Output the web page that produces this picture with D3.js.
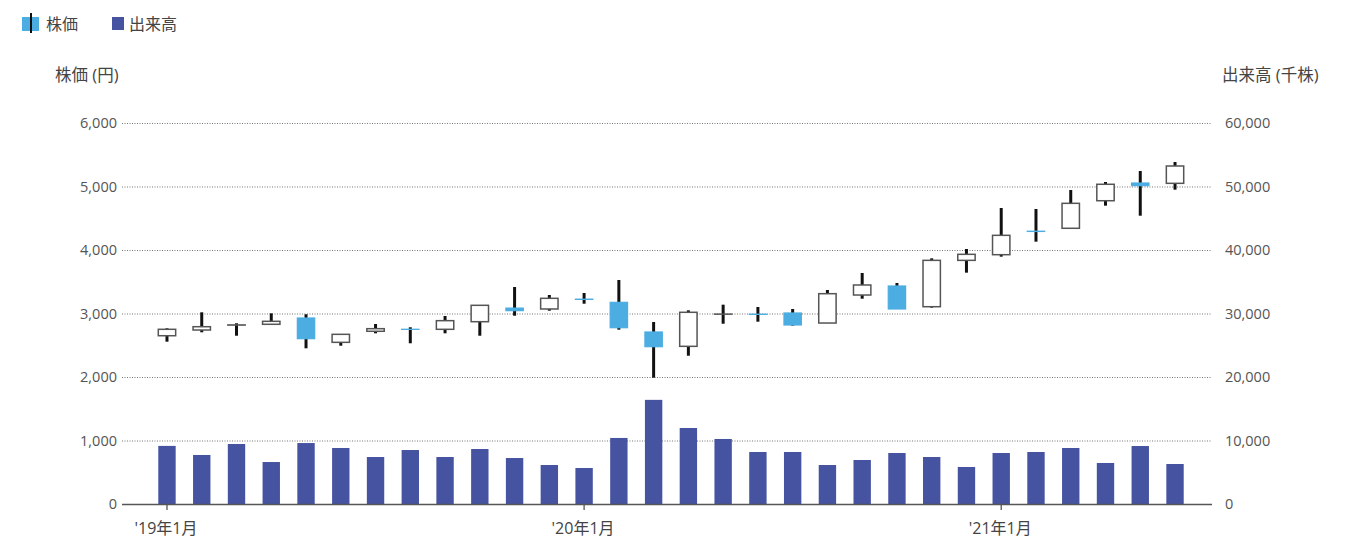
<!DOCTYPE html>
<html><head><meta charset="utf-8">
<script src="https://cdn.jsdelivr.net/npm/d3@7"></script>
<style>
body{margin:0;background:#fff;}
svg text{font-family:"Open Sans","Noto Sans CJK JP",sans-serif;}
</style></head><body>
<svg id="c" width="1355" height="538"></svg>
<script>
const months = ["2019-01","2019-02","2019-03","2019-04","2019-05","2019-06","2019-07","2019-08","2019-09","2019-10","2019-11","2019-12",
"2020-01","2020-02","2020-03","2020-04","2020-05","2020-06","2020-07","2020-08","2020-09","2020-10","2020-11","2020-12",
"2021-01","2021-02","2021-03","2021-04","2021-05","2021-06"];
const open  = [2650,2740,2818,2830,2929,2546,2720,2752,2751,2871,3085,3071,3226,3176,2709,2483,2990,2989,3008,2850,3291,3433,3107,3837,3926,4296,4342,4776,5055,5050];
const close = [2751,2792,2820,2877,2603,2672,2761,2750,2887,3129,3045,3239,3222,2776,2477,3019,2990,2986,2819,3312,3449,3071,3837,3932,4231,4292,4735,5035,5013,5323];
const high  = [2767,3019,2846,3003,2988,2672,2835,2783,2961,3130,3417,3291,3323,3528,2866,3050,3139,3102,3071,3370,3638,3480,3869,4016,4661,4646,4945,5071,5244,5386];
const low   = [2556,2704,2650,2830,2452,2493,2688,2531,2688,2650,2965,3044,3154,2745,1989,2335,2839,2871,2808,2850,3233,3071,3092,3643,3895,4131,4342,4698,4540,4950];
const volume = [9150,7720,9450,6610,9600,8820,7400,8500,7400,8660,7240,6140,5670,10400,16400,11970,10240,8190,8190,6140,6930,8030,7400,5830,8030,8190,8820,6460,9130,6300];
const priceTicks = [0,1000,2000,3000,4000,5000,6000];
const volumeTicks = [0,10000,20000,30000,40000,50000,60000];
const xTickMonths = ["2019-01","2020-01","2021-01"];
const xTickLabels = ["'19年1月","'20年1月","'21年1月"];

const upColor = "#ffffff", downColor = "#4cade2", volColor = "#4553a1";
const svg = d3.select("#c");
const L = 122, R = 1212, T = 123, B = 504;

const x = d3.scaleBand().domain(months).range([149.6, 1192.4]).paddingInner(0.5).paddingOuter(0.25);
const yP = d3.scaleLinear().domain([0,6000]).range([B,T]);
const yV = d3.scaleLinear().domain([0,60000]).range([B,T]);
const fmt = d3.format(",");

// grid
svg.append("g").selectAll("line").data(priceTicks.filter(d=>d>0)).join("line")
  .attr("x1",L).attr("x2",R).attr("y1",d=>yP(d)+0.5).attr("y2",d=>yP(d)+0.5)
  .attr("stroke","#777").attr("stroke-width",1).attr("stroke-dasharray","1,1.5");

// left axis labels
const gl = svg.append("g").attr("transform",`translate(${L},0)`)
  .call(d3.axisLeft(yP).tickValues(priceTicks).tickFormat(fmt).tickSize(0).tickPadding(5));
gl.select(".domain").remove();
gl.selectAll("text").attr("fill","#555").attr("font-size",14.5).attr("font-family","'Open Sans',sans-serif");

const gr = svg.append("g").attr("transform",`translate(${R},0)`)
  .call(d3.axisRight(yV).tickValues(volumeTicks).tickFormat(fmt).tickSize(0).tickPadding(13));
gr.select(".domain").remove();
gr.selectAll("text").attr("fill","#555").attr("font-size",14.5).attr("font-family","'Open Sans',sans-serif");

// volume bars
const bw = x.bandwidth();
svg.append("g").selectAll("rect").data(months).join("rect")
  .attr("x",(d)=>x(d)).attr("width",bw)
  .attr("y",(d,i)=>yV(volume[i])).attr("height",(d,i)=>B-yV(volume[i]))
  .attr("fill",volColor);

// x axis
const cx = d=> x(d)+bw/2;
const gx = svg.append("g").attr("transform",`translate(0,${B})`);
gx.append("line").attr("x1",L).attr("x2",R).attr("y1",0.5).attr("y2",0.5).attr("stroke","#555").attr("stroke-width",1.5);
gx.selectAll("line.t").data(xTickMonths).join("line").attr("class","t")
  .attr("x1",d=>cx(d)).attr("x2",d=>cx(d)).attr("y1",0).attr("y2",6).attr("stroke","#555").attr("stroke-width",1.3);
gx.selectAll("text").data(xTickLabels).join("text")
  .attr("x",(d,i)=>cx(xTickMonths[i])-1).attr("y",30).attr("text-anchor","middle")
  .attr("fill","#444").attr("font-size",16).text(d=>d);

// candles
const cg = svg.append("g").selectAll("g").data(months).join("g");
cg.append("line").attr("x1",d=>cx(d)).attr("x2",d=>cx(d))
  .attr("y1",(d,i)=>yP(high[i])).attr("y2",(d,i)=>yP(low[i]))
  .attr("stroke","#111").attr("stroke-width",3);
cg.append("rect")
  .attr("x",d=>x(d)).attr("width",bw)
  .attr("y",(d,i)=>yP(Math.max(open[i],close[i])))
  .attr("height",(d,i)=>Math.max(0.01, Math.abs(yP(open[i])-yP(close[i]))))
  .attr("fill",(d,i)=>close[i]>=open[i]?upColor:downColor)
  .attr("stroke",(d,i)=>close[i]>=open[i]?"#555":downColor)
  .attr("stroke-width",(d,i)=>close[i]>=open[i]?1.5:1.2);

// axis titles
svg.append("text").attr("x",55).attr("y",81).attr("fill","#444").attr("font-size",16.5).text("株価 (円)");
svg.append("text").attr("x",1222).attr("y",81).attr("fill","#444").attr("font-size",16.5).text("出来高 (千株)");

// legend
const lg = svg.append("g");
lg.append("rect").attr("x",22).attr("y",17).attr("width",17).attr("height",14).attr("fill",downColor);
lg.append("line").attr("x1",31).attr("x2",31).attr("y1",13).attr("y2",33).attr("stroke","#111").attr("stroke-width",2);
lg.append("text").attr("x",46).attr("y",30).attr("fill","#444").attr("font-size",16).text("株価");
lg.append("rect").attr("x",112).attr("y",17).attr("width",12).attr("height",13).attr("fill",volColor);
lg.append("text").attr("x",129).attr("y",30).attr("fill","#444").attr("font-size",16).text("出来高");
</script>
</body></html>
